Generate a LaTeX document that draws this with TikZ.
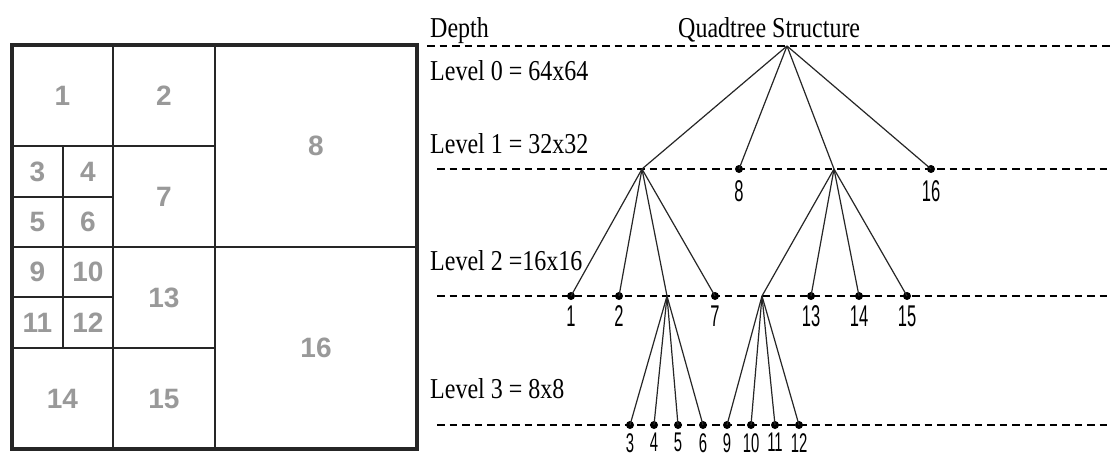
\documentclass[tikz,border=0pt]{standalone}
\usepackage{fontspec}
\setmainfont{Liberation Serif}
\newfontfamily\sansf{Liberation Sans}
\newcommand{\lbl}[1]{\scalebox{0.55}[1]{#1}}
\newcommand{\vst}[1]{\scalebox{1}[1.2]{#1}}
\tikzset{
  cell/.style={draw=black!85, line width=2.2pt, inner sep=0pt, outer sep=0pt,
    text=black!40, font=\sansf\bfseries\fontsize{28}{28}\selectfont},
  dline/.style={line width=2pt, dash pattern=on 7.5pt off 5pt},
  edge/.style={line width=1.2pt, black!85},
  dot/.style={circle, fill=black, inner sep=0pt, minimum width=7pt, minimum height=8pt},
  lab/.style={font=\sansf\fontsize{30}{30}\selectfont, inner sep=0pt},
  labs/.style={font=\sansf\fontsize{27}{27}\selectfont, inner sep=0pt},
  lev/.style={font=\fontsize{24}{24}\selectfont, inner sep=0pt, anchor=base west}
}
\begin{document}
\begin{tikzpicture}[x=1pt,y=-1pt]
\useasboundingbox[fill=white] (0,0) rectangle (1110,458);
% grid
\node[cell, minimum width=101pt, minimum height=101pt] (c1) at (62.5,95.5) {1};
\node[cell, minimum width=102pt, minimum height=101pt] (c2) at (164,95.5) {2};
\node[cell, minimum width=202pt, minimum height=202pt] (c8) at (316,146) {8};
\node[cell, minimum width=51pt, minimum height=51pt] (c3) at (37.5,171.5) {3};
\node[cell, minimum width=50pt, minimum height=51pt] (c4) at (88,171.5) {4};
\node[cell, minimum width=51pt, minimum height=50pt] (c5) at (37.5,222) {5};
\node[cell, minimum width=50pt, minimum height=50pt] (c6) at (88,222) {6};
\node[cell, minimum width=102pt, minimum height=101pt] (c7) at (164,196.5) {7};
\node[cell, minimum width=51pt, minimum height=50pt] (c9) at (37.5,272) {9};
\node[cell, minimum width=50pt, minimum height=50pt] (c10) at (88,272) {10};
\node[cell, minimum width=51pt, minimum height=51pt] (c11) at (37.5,322.5) {11};
\node[cell, minimum width=50pt, minimum height=51pt] (c12) at (88,322.5) {12};
\node[cell, minimum width=102pt, minimum height=101pt] (c13) at (164,297.5) {13};
\node[cell, minimum width=101pt, minimum height=101pt] (c14) at (62.5,398.5) {14};
\node[cell, minimum width=102pt, minimum height=101pt] (c15) at (164,398.5) {15};
\node[cell, minimum width=202pt, minimum height=202pt] (c16) at (316,348) {16};
\draw[black!85, line width=3.5pt] (12,45) rectangle (417,449);

% texts
\node[lev] (tdepth) at (430,37) {\vst{Depth}};
\node[lev] (tquad) at (678,37) {\vst{Quadtree Structure}};
\node[lev] (t0) at (430,80) {\vst{Level 0 = 64x64}};
\node[lev] (t1) at (430,153) {\vst{Level 1 = 32x32}};
\node[lev] (t2) at (430,270) {\vst{Level 2 =16x16}};
\node[lev] (t3) at (430,398) {\vst{Level 3 = 8x8}};

% dashed levels
\coordinate (d0a) at (427,46); \coordinate (d0b) at (1110,46);
\coordinate (d1a) at (437,169); \coordinate (d1b) at (1110,169);
\coordinate (d2a) at (437,296); \coordinate (d2b) at (1110,296);
\coordinate (d3a) at (437,425); \coordinate (d3b) at (1110,425);
\draw[dline] (d0a) -- (d0b);
\draw[dline] (d1a) -- (d1b);
\draw[dline] (d2a) -- (d2b);
\draw[dline] (d3a) -- (d3b);

% tree nodes
\coordinate (root) at (787,46);
\coordinate (A) at (642,169);
\coordinate (B) at (834,169);
\coordinate (C) at (667,296);
\coordinate (D) at (762,296);
\node[dot, label={[lab, label distance=7pt]below:{\lbl{8}}}] (n8) at (739,169) {};
\node[dot, label={[lab, label distance=7pt]below:{\lbl{16}}}] (n16) at (931,169) {};
\node[dot, label={[lab, label distance=5pt]below:{\lbl{1}}}] (n1) at (571,296) {};
\node[dot, label={[lab, label distance=5pt]below:{\lbl{2}}}] (n2) at (619,296) {};
\node[dot, label={[lab, label distance=5pt]below:{\lbl{7}}}] (n7) at (715,296) {};
\node[dot, label={[lab, label distance=5pt]below:{\lbl{13}}}] (n13) at (811,296) {};
\node[dot, label={[lab, label distance=5pt]below:{\lbl{14}}}] (n14) at (859,296) {};
\node[dot, label={[lab, label distance=5pt]below:{\lbl{15}}}] (n15) at (907,296) {};
\node[dot, label={[labs, label distance=4pt]below:{\lbl{3}}}] (n3) at (630,425) {};
\node[dot, label={[labs, label distance=4pt]below:{\lbl{4}}}] (n4) at (654,425) {};
\node[dot, label={[labs, label distance=4pt]below:{\lbl{5}}}] (n5) at (678,425) {};
\node[dot, label={[labs, label distance=4pt]below:{\lbl{6}}}] (n6) at (703,425) {};
\node[dot, label={[labs, label distance=4pt]below:{\lbl{9}}}] (n9) at (727,425) {};
\node[dot, label={[labs, label distance=4pt]below:{\lbl{10}}}] (n10) at (751,425) {};
\node[dot, label={[labs, label distance=4pt]below:{\lbl{11}}}] (n11) at (775,425) {};
\node[dot, label={[labs, label distance=4pt]below:{\lbl{12}}}] (n12) at (799,425) {};

% edges
\draw[edge] (root) -- (A);
\draw[edge] (root) -- (n8.center);
\draw[edge] (root) -- (B);
\draw[edge] (root) -- (n16.center);
\draw[edge] (A) -- (n1.center);
\draw[edge] (A) -- (n2.center);
\draw[edge] (A) -- (C);
\draw[edge] (A) -- (n7.center);
\draw[edge] (B) -- (D);
\draw[edge] (B) -- (n13.center);
\draw[edge] (B) -- (n14.center);
\draw[edge] (B) -- (n15.center);
\draw[edge] (C) -- (n3.center);
\draw[edge] (C) -- (n4.center);
\draw[edge] (C) -- (n5.center);
\draw[edge] (C) -- (n6.center);
\draw[edge] (D) -- (n9.center);
\draw[edge] (D) -- (n10.center);
\draw[edge] (D) -- (n11.center);
\draw[edge] (D) -- (n12.center);
\end{tikzpicture}
\end{document}
